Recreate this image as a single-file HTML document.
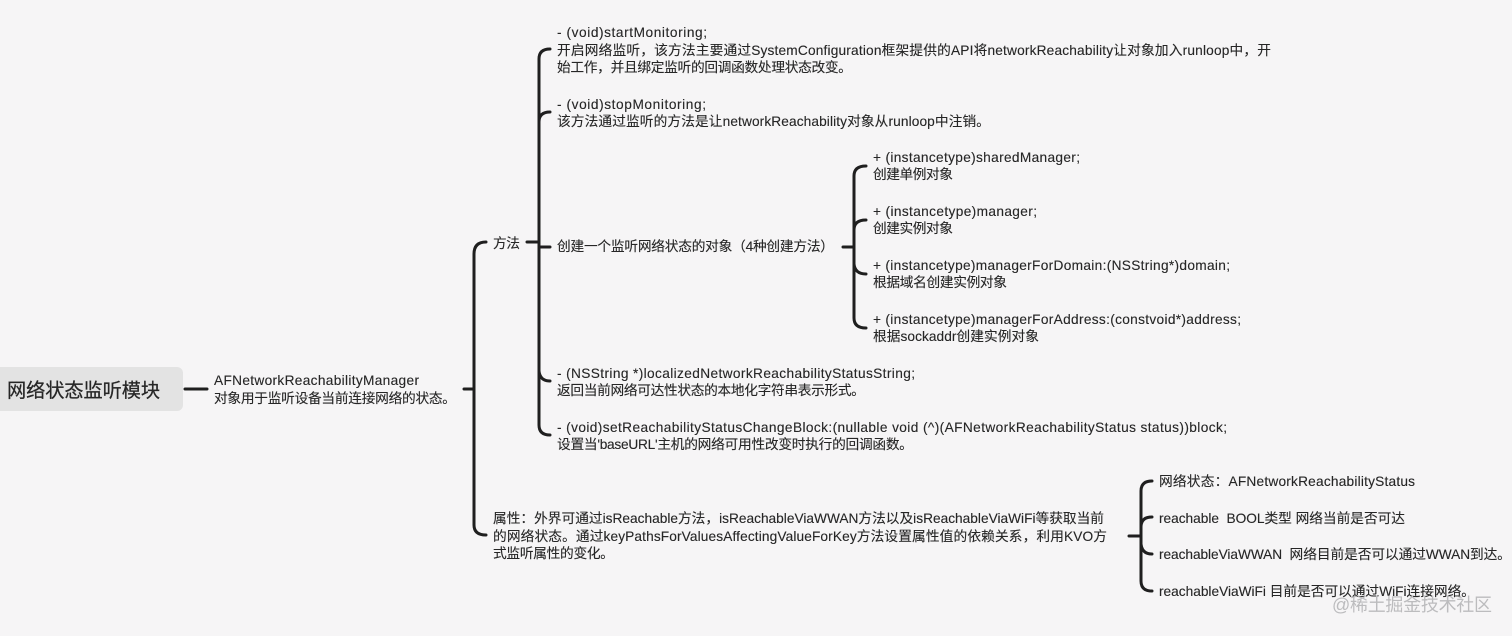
<!DOCTYPE html>
<html><head><meta charset="utf-8"><style>
html,body{margin:0;padding:0;background:#f6f5f6;width:1512px;height:636px;overflow:hidden}
svg{display:block}
text{font-family:"Liberation Sans","Noto Sans CJK SC",sans-serif;font-size:13.7px;fill:#262626;stroke:#262626;stroke-width:.12}
.c{fill:none;stroke:#1f1f1f;stroke-width:3;stroke-linecap:round}
</style></head><body>
<svg width="1512" height="636" viewBox="0 0 1512 636" xmlns="http://www.w3.org/2000/svg">
<rect width="1512" height="636" fill="#f6f5f6"/>
<rect x="-8" y="367" width="191" height="44" rx="6" fill="#e3e3e3"/>
<text x="7" y="397" style="font-size:19.2px;stroke-width:.25" textLength="153">网络状态监听模块</text>
<path class="c" d="M185 389H207M464 389H474M474 389V254Q474 242 486 242M474 389V525Q474 535 486 535"/>
<path class="c" d="M527 242H539M539 247H550M539 247V59Q539 49 550 49M539 122Q539 112 550 112M539 371Q540 381 550 381M539 247V425Q539 435 550 435"/>
<path class="c" d="M843 247H854M854 247V176Q854 166 866 166M854 230Q854 220 866 220M854 264Q855 274 866 274M854 247V318Q854 328 866 328"/>
<path class="c" d="M1129 536H1141M1141 536V491Q1141 481 1152 481M1141 527Q1141 517 1152 517M1141 544Q1142 554 1152 554M1141 536V581Q1141 591 1152 591"/>
<text x="214" y="385" textLength="205">AFNetworkReachabilityManager</text>
<text x="214" y="403" textLength="242">对象用于监听设备当前连接网络的状态。</text>
<text x="493" y="248" textLength="27">方法</text>
<text x="557" y="37" textLength="150">- (void)startMonitoring;</text>
<text x="557" y="55" textLength="714">开启网络监听，该方法主要通过SystemConfiguration框架提供的API将networkReachability让对象加入runloop中，开</text>
<text x="557" y="72" textLength="295">始工作，并且绑定监听的回调函数处理状态改变。</text>
<text x="557" y="109" textLength="149">- (void)stopMonitoring;</text>
<text x="557" y="126" textLength="433">该方法通过监听的方法是让networkReachability对象从runloop中注销。</text>
<text x="557" y="251" textLength="277">创建一个监听网络状态的对象（4种创建方法）</text>
<text x="873" y="162" textLength="207">+ (instancetype)sharedManager;</text>
<text x="873" y="179" textLength="80">创建单例对象</text>
<text x="873" y="216" textLength="164">+ (instancetype)manager;</text>
<text x="873" y="233" textLength="80">创建实例对象</text>
<text x="873" y="270" textLength="357">+ (instancetype)managerForDomain:(NSString*)domain;</text>
<text x="873" y="287" textLength="134">根据域名创建实例对象</text>
<text x="873" y="324" textLength="368">+ (instancetype)managerForAddress:(constvoid*)address;</text>
<text x="873" y="341" textLength="166">根据sockaddr创建实例对象</text>
<text x="557" y="378" textLength="358">- (NSString *)localizedNetworkReachabilityStatusString;</text>
<text x="557" y="395" textLength="308">返回当前网络可达性状态的本地化字符串表示形式。</text>
<text x="557" y="432" textLength="670">- (void)setReachabilityStatusChangeBlock:(nullable void (^)(AFNetworkReachabilityStatus status))block;</text>
<text x="557" y="449" textLength="356">设置当'baseURL'主机的网络可用性改变时执行的回调函数。</text>
<text x="493" y="523" textLength="611">属性：外界可通过isReachable方法，isReachableViaWWAN方法以及isReachableViaWiFi等获取当前</text>
<text x="493" y="541" textLength="614">的网络状态。通过keyPathsForValuesAffectingValueForKey方法设置属性值的依赖关系，利用KVO方</text>
<text x="493" y="558" textLength="121">式监听属性的变化。</text>
<text x="1159" y="486" textLength="256">网络状态：AFNetworkReachabilityStatus</text>
<text x="1159" y="523" textLength="246" xml:space="preserve">reachable  BOOL类型 网络当前是否可达</text>
<text x="1159" y="559" textLength="352" xml:space="preserve">reachableViaWWAN  网络目前是否可以通过WWAN到达。</text>
<text x="1159" y="596" textLength="316">reachableViaWiFi 目前是否可以通过WiFi连接网络。</text>
<text x="1332" y="611" textLength="160" style="font-size:18px;fill:#bcbcbe;stroke:none">@稀土掘金技术社区</text>
</svg>
</body></html>
